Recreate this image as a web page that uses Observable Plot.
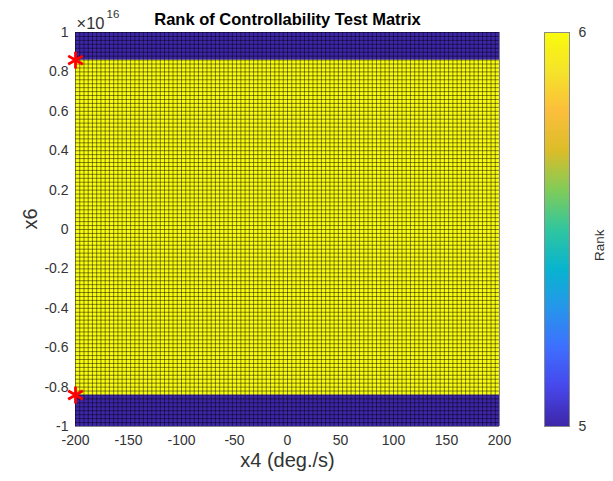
<!DOCTYPE html>
<html>
<head>
<meta charset="utf-8">
<script src="https://cdn.jsdelivr.net/npm/d3@7"></script>
<script src="https://cdn.jsdelivr.net/npm/@observablehq/plot@0.6"></script>
<style>
  html, body { margin: 0; padding: 0; background: white; }
  #chart { position: relative; width: 613px; height: 481px; }
  #chart > svg, #chart > figure { position: absolute; left: 0; top: 0; margin: 0; }
</style>
</head>
<body>
<div id="chart"></div>
<script>
// ---- data (x6 in units of 1e16) ----
const titleText = "Rank of Controllability Test Matrix";
const xLabelText = "x4 (deg./s)";
const yLabelText = "x6";
const colorLabelText = "Rank";
const yExponent = "16";
const xRange = [-200, 200];
const yRange = [-1, 1];
const xTicks = [-200, -150, -100, -50, 0, 50, 100, 150, 200];
const yTicks = [-1, -0.8, -0.6, -0.4, -0.2, 0, 0.2, 0.4, 0.6, 0.8, 1];
const bandLow = [-1, -0.84, 0.86];
const bandHigh = [-0.84, 0.86, 1];
const bandRank = [5, 6, 5];
const starX = [-200, -200];
const starY = [0.86, -0.84];
const meshStepX = 4;     // grid spacing of the surface mesh
const meshStepY = 0.02;
const rankDomain = [5, 6];
const colorTicks = [5, 6];
const parula = ["#3E26A8", "#4747EB", "#3E6FFF", "#2796EB", "#08B4D0", "#31C69F",
                "#81CC59", "#DCBD29", "#FCBE3C", "#F5E32A", "#F9FB0E"];

const bands = bandRank.map((r, i) => ({y1: bandLow[i], y2: bandHigh[i], rank: r, x1: xRange[0], x2: xRange[1]}));
const stars = starX.map((x, i) => ({x, y: starY[i]}));
const nx = Math.round((xRange[1] - xRange[0]) / meshStepX);
const ny = Math.round((yRange[1] - yRange[0]) / meshStepY);
const meshX = d3.range(nx + 1).map(i => xRange[0] + i * meshStepX);
const meshY = d3.range(ny + 1).map(i => yRange[0] + i * meshStepY);

const colorScale = {type: "linear", domain: rankDomain, interpolate: d3.piecewise(d3.interpolateRgb, parula)};
const font = "'Liberation Sans', Arial, Helvetica, sans-serif";
const fmt = d => String(+d.toFixed(2));

const main = Plot.plot({
  width: 613, height: 481,
  marginLeft: 75, marginRight: 114, marginTop: 32, marginBottom: 55,
  style: {fontFamily: font, fontSize: "14px", color: "#333333", background: "white"},
  x: {domain: xRange, ticks: xTicks, tickSize: 0, tickPadding: 9, tickFormat: fmt, label: null},
  y: {domain: yRange, ticks: yTicks, tickSize: 0, tickPadding: 7, tickFormat: fmt, label: null},
  color: colorScale,
  marks: [
    Plot.rect(bands, {x1: "x1", x2: "x2", y1: "y1", y2: "y2", fill: "rank"}),
    Plot.ruleX(meshX, {stroke: "black", strokeOpacity: 0.6, strokeWidth: 0.8}),
    Plot.ruleY(meshY, {stroke: "black", strokeOpacity: 0.6, strokeWidth: 0.8}),
    Plot.dot(stars, {x: "x", y: "y", symbol: "asterisk", r: 8, stroke: "#FF0000", strokeWidth: 2.8, fill: "none"}),
    Plot.text([titleText], {text: d => d, frameAnchor: "top", dy: -19, fontWeight: "bold", fontSize: 16.5, fill: "black"}),
    Plot.text([xLabelText], {text: d => d, frameAnchor: "bottom", dy: 40, fontSize: 20, fill: "#333333"}),
    Plot.text([yLabelText], {text: d => d, frameAnchor: "left", dx: -45, rotate: -90, fontSize: 20, fill: "#333333"}),
    Plot.text(["×10"], {text: d => d, frameAnchor: "top-left", dx: 1, dy: -15, textAnchor: "start", fontSize: 16.5, fill: "#333333"}),
    Plot.text([yExponent], {text: d => d, frameAnchor: "top-left", dx: 31, dy: -23, textAnchor: "start", fontSize: 11.5, fill: "#333333"})
  ]
});

const bar = Plot.plot({
  width: 613, height: 481,
  marginLeft: 544, marginRight: 44, marginTop: 32, marginBottom: 55,
  style: {fontFamily: font, fontSize: "14px", color: "#333333", background: "transparent"},
  x: {domain: [0, 1], axis: null},
  y: {domain: rankDomain, ticks: colorTicks, tickFormat: d => String(d), axis: "right", tickSize: 0, tickPadding: 9, label: null},
  color: colorScale,
  marks: [
    Plot.raster({x1: 0, x2: 1, y1: rankDomain[0], y2: rankDomain[1], width: 2, height: 256, fill: (x, y) => y, imageRendering: "auto"}),
    Plot.frame({stroke: "#8a8a8a", strokeWidth: 1}),
    Plot.text([colorLabelText], {text: d => d, frameAnchor: "right", dx: 30, rotate: -90, fontSize: 13.5, fill: "#333333"})
  ]
});
bar.style.pointerEvents = "none";

const el = document.getElementById("chart");
el.appendChild(main);
el.appendChild(bar);
</script>
</body>
</html>
